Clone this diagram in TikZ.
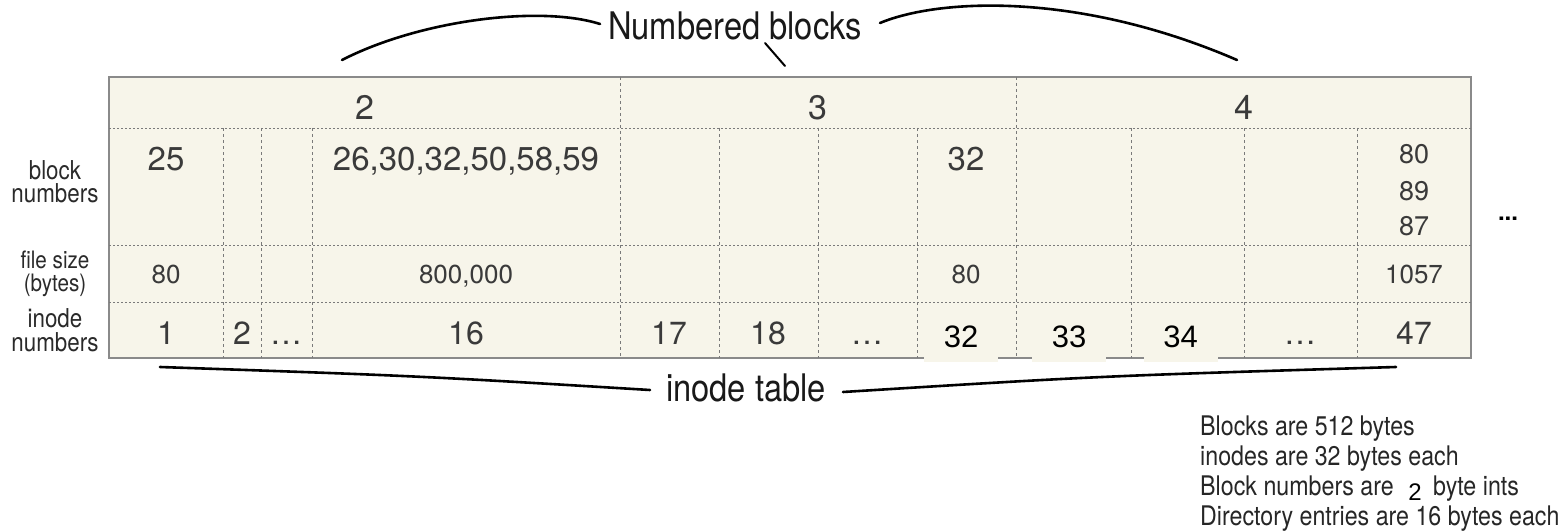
\documentclass[tikz,border=0pt]{standalone}
\usepackage{fontspec}
\setmainfont{TeX Gyre Heros}
\newfontfamily\condf[FakeStretch=0.86]{TeX Gyre Heros}
\newfontfamily\arialf{Liberation Sans}
\definecolor{tblfill}{HTML}{F7F5EA}
\definecolor{tblborder}{HTML}{8A8A8A}
\definecolor{divcol}{HTML}{7A7A7A}
\definecolor{numcol}{HTML}{3A3A3A}
\definecolor{lblcol}{HTML}{2A2A2A}
\begin{document}
\begin{tikzpicture}[x=1pt,y=-1pt,
  tbl/.style={draw=tblborder, line width=1.3pt, fill=tblfill},
  hdiv/.style={draw=divcol, line width=0.9pt, dash pattern=on 2pt off 2pt},
  vdiv/.style={draw=divcol, line width=0.9pt, dash pattern=on 3pt off 3pt},
  hdr/.style={text=numcol, inner sep=0pt, anchor=base, font=\fontsize{34}{40}\selectfont},
  bnum/.style={text=numcol, inner sep=0pt, anchor=base, font=\fontsize{33}{40}\selectfont},
  bsmall/.style={text=numcol, inner sep=0pt, anchor=base, font=\fontsize{27}{32}\selectfont},
  fsize/.style={text=numcol, inner sep=0pt, anchor=base, font=\fontsize{26}{30}\selectfont},
  inum/.style={text=numcol, inner sep=0pt, anchor=base, font=\fontsize{32}{38}\selectfont},
  ovl/.style={text=black, fill=tblfill, inner xsep=0pt, inner ysep=0pt, anchor=base,
    minimum width=74pt, text height=22pt, text depth=15pt, font=\arialf\fontsize{31}{36}\selectfont},
  rowlbl/.style={text=lblcol, inner sep=0pt, anchor=north, align=center},
  big/.style={text=black!90, inner sep=0pt, font=\condf\fontsize{38}{44}\selectfont},
  note/.style={text=black!85, inner sep=0pt, anchor=base west, font=\condf\fontsize{27}{30}\selectfont},
  brace/.style={draw=black, line width=2.6pt, line cap=round}
]
\useasboundingbox (0,0) rectangle (1560,532);

% table frame
\draw[tbl] (109,77) rectangle (1471,358);
% horizontal dividers
\foreach \yy in {128,245,302} \draw[hdiv] (109,\yy) -- (1471,\yy);
% vertical dividers through the header
\foreach \xx in {620,1016} \draw[vdiv] (\xx,77) -- (\xx,358);
% vertical dividers in the lower rows
\foreach \xx in {223,261,312,719,818,917,1131,1244,1357} \draw[vdiv] (\xx,128) -- (\xx,358);

% header
\node[hdr] (h2) at (364.5,120) {2};
\node[hdr] (h3) at (818,120) {3};
\node[hdr] (h4) at (1243.5,120) {4};

% block numbers row
\node[bnum] (b25) at (166,170) {25};
\node[bnum] (bl16) at (466,170) {26,30,32,50,58,59};
\node[bnum] (b32) at (966,170) {32};
\node[bsmall] (b80) at (1414,163) {80};
\node[bsmall] (b89) at (1414,200) {89};
\node[bsmall] (b87) at (1414,235) {87};

% file size row
\node[fsize] (f1) at (166,283) {80};
\node[fsize] (f16) at (466,283) {800,000};
\node[fsize] (f32) at (966,283) {80};
\node[fsize] (f47) at (1414,283) {1057};

% inode numbers row
\node[inum] (i1) at (166,344) {1};
\node[inum] (i2) at (242,344) {2};
\node[inum] (id1) at (286,344) {\ldots};
\node[inum] (i16) at (466,344) {16};
\node[inum] (i17) at (669,344) {17};
\node[inum] (i18) at (768,344) {18};
\node[inum] (id2) at (867,344) {\ldots};
\node[inum] (id3) at (1300,344) {\ldots};
\node[inum] (i47) at (1414,344) {47};
\node[ovl] (o32) at (961,347) {32};
\node[ovl] (o33) at (1069,347) {33};
\node[ovl] (o34) at (1180.5,347) {34};

% row labels
\node[rowlbl, font=\condf\fontsize{26}{23.5}\selectfont] (lb) at (55,160) {block\\numbers};
\node[rowlbl, font=\condf\fontsize{24}{23}\selectfont] (lf) at (55,251) {file size\\(bytes)};
\node[rowlbl, font=\condf\fontsize{26}{24}\selectfont] (li) at (55,308) {inode\\numbers};

% more
\node[inner sep=0pt, font=\bfseries\fontsize{24}{28}\selectfont] (more) at (1508,219) {...};

% numbered blocks label and its brace
\node[big, anchor=base west] (nb) at (608,40) {Numbered blocks};
\coordinate (nbL1) at (342,60);
\coordinate (nbL2) at (600,24);
\coordinate (nbR1) at (880,23);
\coordinate (nbR2) at (1237,60);
\coordinate (nbT1) at (765,43);
\coordinate (nbT2) at (785,66);
\draw[brace] (nbL1) .. controls (420,20) and (540,5) .. (nbL2);
\draw[brace] (nbR1) .. controls (940,-2) and (1080,-8) .. (nbR2);
\draw[brace, line width=2pt] (nbT1) -- (nbT2);

% inode table label and its brace
\node[big, anchor=base] (it) at (746,401) {inode table};
\coordinate (itL1) at (160,367);
\coordinate (itL2) at (650,390);
\coordinate (itR1) at (843,392);
\coordinate (itR2) at (1396,367);
\draw[brace] (itL1) .. controls (420,376) .. (itL2);
\draw[brace] (itR1) .. controls (1100,376) .. (itR2);

% notes
\node[note] (n1) at (1200,435) {Blocks are 512 bytes};
\node[note] (n2) at (1200,465) {inodes are 32 bytes each};
\node[note] (n3) at (1200,495) {Block numbers are};
\node[inner sep=0pt, anchor=base, text=black, font=\arialf\fontsize{24}{28}\selectfont] (n3v) at (1415,500) {2};
\node[note] (n3b) at (1433,495) {byte ints};
\node[note] (n4) at (1200,525) {Directory entries are 16 bytes each};
\end{tikzpicture}
\end{document}
